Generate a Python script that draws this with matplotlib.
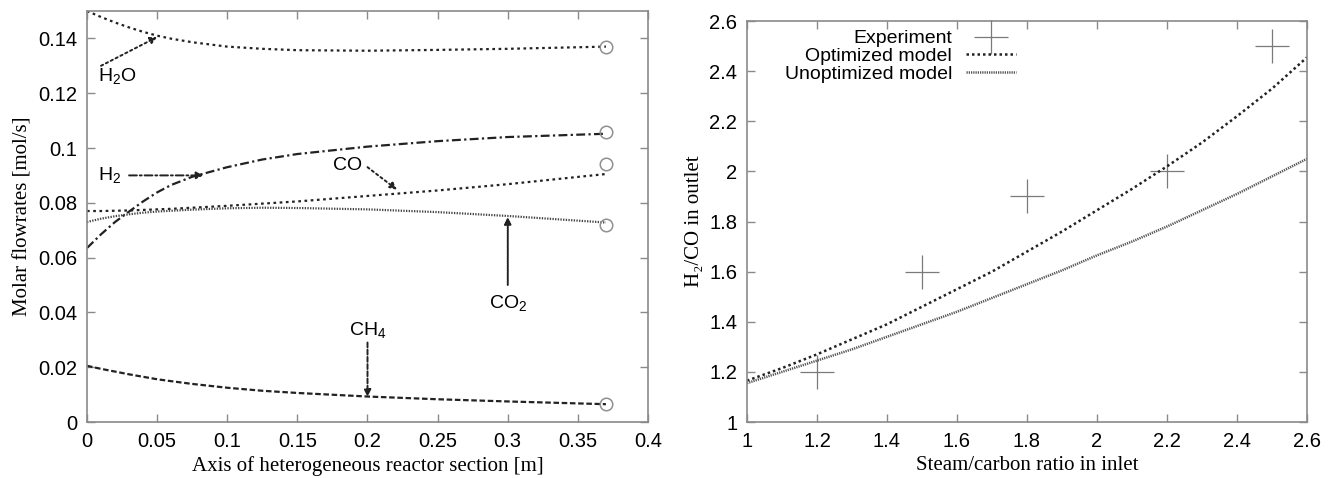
import matplotlib.pyplot as plt
import numpy as np
from matplotlib.ticker import FormatStrFormatter

plt.rcParams["font.family"] = ["Liberation Sans", "DejaVu Sans"]
plt.rcParams["mathtext.fontset"] = "custom"
plt.rcParams["mathtext.rm"] = "Liberation Sans"
plt.rcParams["mathtext.it"] = "Liberation Sans"

# ---- left panel: molar flowrates along reactor axis
z = [0.0, 0.01, 0.02, 0.03, 0.04, 0.05, 0.06, 0.075, 0.1, 0.125, 0.15, 0.2, 0.25, 0.3, 0.37]
h2o = [0.1500, 0.1478, 0.1458, 0.1440, 0.1424, 0.1410, 0.1399, 0.1386, 0.1370, 0.1362, 0.1357,
       0.1355, 0.1358, 0.1362, 0.1370]
h2 = [0.0635, 0.0685, 0.0730, 0.0768, 0.0805, 0.0838, 0.0865, 0.0895, 0.0930, 0.0958, 0.0978,
      0.1005, 0.1025, 0.1040, 0.1052]
co = [0.0770, 0.0770, 0.0771, 0.0772, 0.0774, 0.0776, 0.0778, 0.0782, 0.0789, 0.0797, 0.0805,
      0.0825, 0.0845, 0.0868, 0.0905]
co2 = [0.0730, 0.0742, 0.0751, 0.0758, 0.0764, 0.0768, 0.0771, 0.0775, 0.0780, 0.0782, 0.0781,
       0.0776, 0.0766, 0.0752, 0.0728]
ch4 = [0.0205, 0.0194, 0.0184, 0.0174, 0.0165, 0.0156, 0.0149, 0.0139, 0.0125, 0.0114, 0.0106,
       0.0093, 0.0083, 0.0075, 0.0065]

# end-point circles (separate values at reactor exit)
z_end = 0.37
end_vals = [0.137, 0.106, 0.094, 0.072, 0.0065]

# ---- right panel: H2/CO vs steam/carbon ratio
sc = [1.0, 1.1, 1.2, 1.3, 1.4, 1.5, 1.6, 1.7, 1.8, 1.9, 2.0, 2.1, 2.2, 2.3, 2.4, 2.5, 2.6]
opt = [1.165, 1.215, 1.27, 1.33, 1.39, 1.46, 1.53, 1.60, 1.68, 1.76, 1.845, 1.93, 2.02, 2.115, 2.22, 2.33, 2.455]
unopt = [1.155, 1.20, 1.245, 1.29, 1.34, 1.39, 1.44, 1.495, 1.55, 1.605, 1.665, 1.72, 1.78, 1.845, 1.91, 1.98, 2.05]
exp_x = [1.2, 1.5, 1.8, 2.2, 2.5]
exp_y = [1.2, 1.6, 1.9, 2.0, 2.5]

fig = plt.figure(figsize=(13.38, 4.78), dpi=100)
ax1 = fig.add_axes([87 / 1338, 56 / 478, 561 / 1338, 411 / 478])
ax2 = fig.add_axes([747 / 1338, 56 / 478, 560 / 1338, 401 / 478])

spine_col = "#8a8a8a"
for ax in (ax1, ax2):
    for s in ax.spines.values():
        s.set_color(spine_col)
        s.set_linewidth(1.2)
    ax.tick_params(direction="in", top=True, right=True, length=6, width=1,
                   color=spine_col, labelsize=14.5, pad=7)

line_col = "#222222"
dot = (0, (1.2, 1.6))
dashdot = (0, (4, 1.5, 1, 1.5))
fine = (0, (0.6, 0.6))
dash = (0, (2.5, 1.2))
ax1.plot(z, h2o, color=line_col, lw=1.6, linestyle=dot)
ax1.plot(z, h2, color=line_col, lw=1.6, linestyle=dashdot)
ax1.plot(z, co, color=line_col, lw=1.6, linestyle=dot)
ax1.plot(z, co2, color="#444444", lw=1.6, linestyle=fine)
ax1.plot(z, ch4, color=line_col, lw=1.6, linestyle=dash)
ax1.plot([z_end] * len(end_vals), end_vals, "o", ms=9, mfc="none", mec="#909090", mew=1.1)

arrow_kw = dict(arrowstyle="-|>", color=line_col, lw=1.4, mutation_scale=10, shrinkA=0, shrinkB=0)
ax1.annotate("", xy=(0.05, 0.1405), xytext=(0.01, 0.1300), arrowprops=dict(arrow_kw, linestyle=dot))
ax1.text(0.008, 0.1262, "H$_2$O", fontsize=14, va="center", ha="left")
ax1.annotate("", xy=(0.083, 0.0900), xytext=(0.030, 0.0900), arrowprops=dict(arrow_kw, linestyle=dashdot))
ax1.text(0.0075, 0.0900, "H$_2$", fontsize=14, va="center", ha="left")
ax1.annotate("", xy=(0.221, 0.0848), xytext=(0.20, 0.0930), arrowprops=dict(arrow_kw, linestyle=dot))
ax1.text(0.196, 0.0935, "CO", fontsize=14, va="center", ha="right")
ax1.annotate("", xy=(0.30, 0.0748), xytext=(0.30, 0.0500), arrowprops=dict(arrow_kw, linestyle=fine))
ax1.text(0.30, 0.0435, "CO$_2$", fontsize=14, va="center", ha="center")
ax1.annotate("", xy=(0.20, 0.0092), xytext=(0.20, 0.0290), arrowprops=dict(arrow_kw, linestyle=dash))
ax1.text(0.20, 0.0335, "CH$_4$", fontsize=14, va="center", ha="center")

ax1.set_xlim(0, 0.4)
ax1.set_ylim(0, 0.15)
ax1.set_xticks(np.arange(0, 0.401, 0.05))
ax1.set_yticks(np.arange(0, 0.141, 0.02))
ax1.xaxis.set_major_formatter(FormatStrFormatter("%g"))
ax1.yaxis.set_major_formatter(FormatStrFormatter("%g"))
ax1.set_xlabel("Axis of heterogeneous reactor section [m]", family="Liberation Serif", fontsize=15)
ax1.set_ylabel("Molar flowrates [mol/s]", family="Liberation Serif", fontsize=15)

ax2.plot(exp_x, exp_y, "+", ms=25, mew=0.9, color="#7a7a7a", linestyle="none", label="Experiment")
ax2.plot(sc, opt, color=line_col, lw=1.8, linestyle=(0, (1, 1.2)), label="Optimized model")
ax2.plot(sc, unopt, color="#555555", lw=1.8, linestyle=(0, (0.5, 0.4)), label="Unoptimized model")
ax2.set_xlim(1, 2.6)
ax2.set_ylim(1, 2.6)
ax2.set_xticks(np.arange(1, 2.61, 0.2))
ax2.set_yticks(np.arange(1, 2.61, 0.2))
ax2.xaxis.set_major_formatter(FormatStrFormatter("%g"))
ax2.yaxis.set_major_formatter(FormatStrFormatter("%g"))
ax2.set_xlabel("Steam/carbon ratio in inlet", family="Liberation Serif", fontsize=15)
ax2.set_ylabel("H\u2082/CO in outlet", family=["Liberation Serif", "DejaVu Serif"], fontsize=15)
ax2.legend(loc="upper right", bbox_to_anchor=(0.505, 1.012), frameon=False, markerfirst=False,
           fontsize=14, handlelength=2.6, labelspacing=0.0, handletextpad=0.7, borderaxespad=0.3)

fig.savefig("out.png", dpi=100)
